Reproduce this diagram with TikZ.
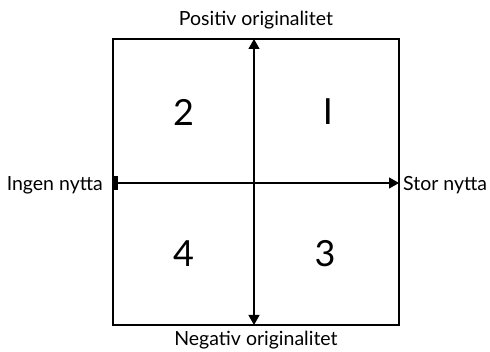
\documentclass[tikz,border=0pt]{standalone}
\usepackage{fontspec}
\setmainfont{Lato}
\usetikzlibrary{arrows.meta}
\begin{document}
\begin{tikzpicture}[x=1pt,y=-1pt,
  lbl/.style={font=\fontsize{19.5}{22}\selectfont, inner sep=0pt},
  num/.style={font=\fontsize{36}{40}\selectfont, inner sep=0pt},
  axis/.style={line width=1.2pt, -{Triangle[length=10pt,width=11pt]}},
  frame/.style={draw, line width=1.2pt}]
\useasboundingbox (0,0) rectangle (490,352);
\draw[frame] (113,39) rectangle (399,325);
\coordinate (top) at (254,39);
\coordinate (bot) at (254,325);
\coordinate (right) at (399,183);
\coordinate (mid) at (254,183);
\node[fill, minimum width=5pt, minimum height=14pt, inner sep=0pt, anchor=west] (left) at (112.5,183) {};
\draw[axis] (mid) -- (top);
\draw[axis] (mid) -- (bot);
\draw[axis] (left.east) -- (right);
\node[lbl, anchor=base] (pos) at (256,26) {Positiv originalitet};
\node[lbl, anchor=base] (neg) at (256,345.5) {Negativ originalitet};
\node[lbl, anchor=base east] (ingen) at (103,191) {Ingen nytta};
\node[lbl, anchor=base west] (stor) at (403,191) {Stor nytta};
\node[num] (n2) at (183.5,112) {2};
\node[num] (n1) at (328,112) {I};
\node[num] (n4) at (183.5,254) {4};
\node[num] (n3) at (325,254) {3};
\end{tikzpicture}
\end{document}
